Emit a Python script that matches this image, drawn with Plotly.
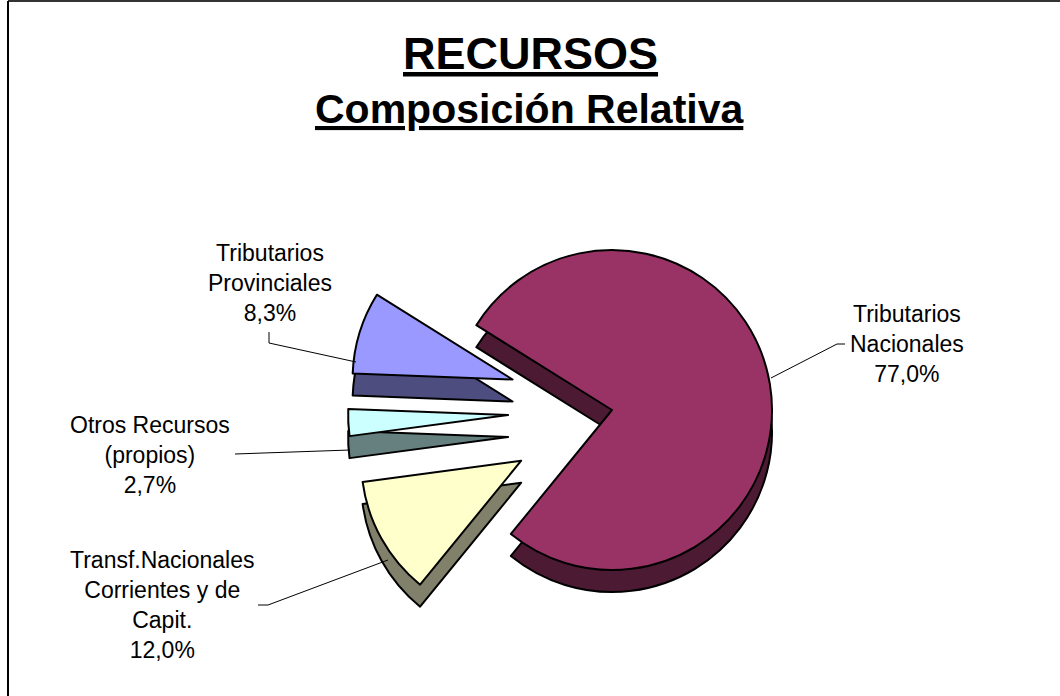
import plotly.graph_objects as go

# ---- data ----
categories = ["Tributarios<br>Nacionales",
              "Transf.Nacionales<br>Corrientes y de<br>Capit.",
              "Otros Recursos<br>(propios)",
              "Tributarios<br>Provinciales"]
values = [77.0, 12.0, 2.7, 8.3]
value_labels = ["77,0%", "12,0%", "2,7%", "8,3%"]
top_colors = ["#993366", "#FFFFCC", "#CCFFFF", "#9999FF"]
side_colors = ["#4D1A33", "#80806B", "#668080", "#4D4D80"]
pulls = [0, 0.65, 0.65, 0.65]

W, H = 1060, 696

def px(x):
    return x / W

def py(y):
    return min(1.0, max(0.0, 1 - y / H))

# pie geometry (layout)
cx, cy, r = 612, 410, 160
half = r * (1 + max(pulls))
depth = 22

def dom(offset):
    return dict(x=[px(cx - half), px(cx + half)],
                y=[py(cy + offset + half), py(cy + offset - half)])

fig = go.Figure()
# extruded side (shadow copy)
fig.add_trace(go.Pie(
    labels=categories, values=values, sort=False, direction="clockwise",
    rotation=302, pull=pulls, textinfo="none", hoverinfo="skip",
    marker=dict(colors=side_colors, line=dict(color="black", width=2)),
    domain=dom(depth), showlegend=False))
# top face
fig.add_trace(go.Pie(
    labels=categories, values=values, sort=False, direction="clockwise",
    rotation=302, pull=pulls, textinfo="none",
    marker=dict(colors=top_colors, line=dict(color="black", width=2)),
    domain=dom(0), showlegend=False))

# labels
label_pos = [(907, 344), (162, 605), (150, 455), (270, 283)]
leaders = [
    [(771, 378), (837, 344), (845, 344)],
    [(258, 605), (268, 605), (388, 560)],
    [(235, 454), (350, 450)],
    [(269, 332), (269, 343), (356, 362)],
]
font_lbl = dict(family="Liberation Sans, Arial, sans-serif", size=23, color="black")
annotations = []
shapes = []
for name, vl, (tx, ty), pts in zip(categories, value_labels, label_pos, leaders):
    annotations.append(dict(x=px(tx), y=py(ty), xref="paper", yref="paper",
                            text=f"{name}<br>{vl}", showarrow=False, align="center",
                            xanchor="center", yanchor="middle", font=font_lbl))
    path = "M " + " L ".join(f"{px(a)},{py(b)}" for a, b in pts)
    shapes.append(dict(type="path", xref="paper", yref="paper", path=path,
                       line=dict(color="black", width=1)))

# titles
title_font = "Liberation Sans, Arial, sans-serif"
annotations.append(dict(x=0.5, y=py(54), xref="paper", yref="paper",
                        text="<b><u>RECURSOS</u></b>", showarrow=False,
                        xanchor="center", yanchor="middle",
                        font=dict(family=title_font, size=45, color="black")))
annotations.append(dict(x=0.5, y=py(109), xref="paper", yref="paper",
                        text="<b><u>Composición Relativa</u></b>", showarrow=False,
                        xanchor="center", yanchor="middle",
                        font=dict(family=title_font, size=41, color="black")))

# frame: top and left edges only
shapes.append(dict(type="line", xref="paper", yref="paper",
                   x0=px(8), x1=1, y0=py(1), y1=py(1),
                   line=dict(color="#333333", width=2)))
shapes.append(dict(type="line", xref="paper", yref="paper",
                   x0=px(8), x1=px(8), y0=py(1), y1=0,
                   line=dict(color="black", width=2)))

fig.update_layout(width=W, height=H, margin=dict(l=0, r=0, t=0, b=0),
                  paper_bgcolor="white", plot_bgcolor="white",
                  annotations=annotations, shapes=shapes)

fig.write_html("out.html", config={"displayModeBar": False},
               post_script="document.body.style.margin='0';document.body.style.overflow='hidden';")
